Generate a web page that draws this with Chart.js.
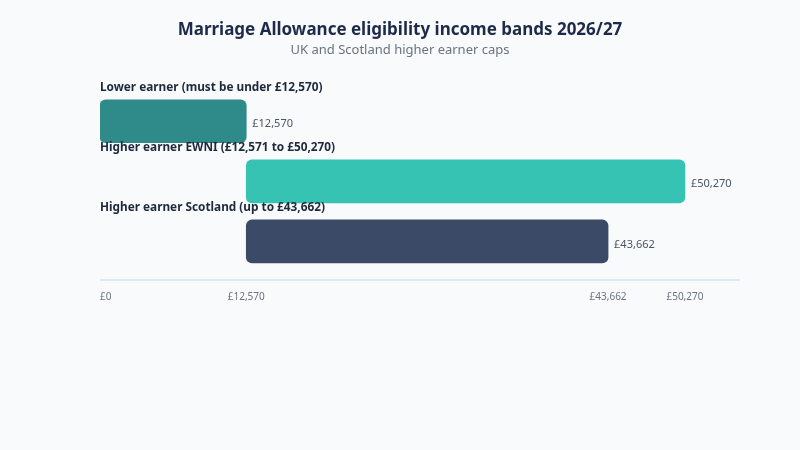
<!DOCTYPE html>
<html>
<head>
<meta charset="utf-8">
<script src="https://cdn.jsdelivr.net/npm/chart.js@4"></script>
<style>
  html, body { margin: 0; padding: 0; background: #f8fafc; }
  #wrap { width: 800px; height: 450px; position: relative; }
</style>
</head>
<body>
<div id="wrap"><canvas id="c"></canvas></div>
<script>
const categories = [
  'Lower earner (must be under £12,570)',
  'Higher earner EWNI (£12,571 to £50,270)',
  'Higher earner Scotland (up to £43,662)'
];
const bandStart = [0, 12570, 12570];
const bandEnd = [12570, 50270, 43662];
const tickValues = [0, 12570, 43662, 50270];
const axisMax = 55000;

const fmt = v => '£' + v.toLocaleString('en-GB');
const FONT = '"Noto Sans", "DejaVu Sans", sans-serif';

const overlay = {
  id: 'overlay',
  afterDatasetsDraw(chart) {
    const ctx = chart.ctx;
    const meta = chart.getDatasetMeta(0);
    const xs = chart.scales.x;
    const area = chart.chartArea;
    ctx.save();
    meta.data.forEach((bar, i) => {
      const half = bar.height / 2;
      ctx.font = '700 11.8px ' + FONT;
      ctx.fillStyle = '#1e293b';
      ctx.textAlign = 'left';
      ctx.textBaseline = 'middle';
      ctx.fillText(categories[i], area.left, bar.y - half - 12.5);
      ctx.font = '400 11px ' + FONT;
      ctx.fillStyle = '#4b5563';
      ctx.fillText(fmt(bandEnd[i]), bar.x + 6, bar.y + 3);
    });
    const baseY = area.bottom + 8.5;
    ctx.strokeStyle = '#e2e8f0';
    ctx.lineWidth = 2;
    ctx.beginPath();
    ctx.moveTo(area.left, baseY);
    ctx.lineTo(area.right, baseY);
    ctx.stroke();
    ctx.font = '400 10px ' + FONT;
    ctx.fillStyle = '#6b7280';
    ctx.textBaseline = 'middle';
    tickValues.forEach((v, i) => {
      const px = xs.getPixelForValue(v);
      ctx.textAlign = i === 0 ? 'left' : 'center';
      ctx.fillText(fmt(v), px, baseY + 17);
    });
    ctx.restore();
  }
};

new Chart(document.getElementById('c'), {
  type: 'bar',
  data: {
    labels: categories,
    datasets: [{
      data: categories.map((c, i) => [bandStart[i], bandEnd[i]]),
      backgroundColor: ['#2f8a8a', '#36c3b3', '#3b4a66'],
      borderRadius: 6,
      borderSkipped: false,
      barThickness: 43
    }]
  },
  options: {
    indexAxis: 'y',
    responsive: true,
    maintainAspectRatio: false,
    animation: false,
    layout: { padding: { left: 60, right: 60, top: 0, bottom: 178.5 } },
    scales: {
      x: { display: false, min: 0, max: axisMax },
      y: {
        display: true, offset: true,
        ticks: { display: false },
        grid: { display: false },
        border: { display: false },
        afterFit(scale) { scale.width = 40; }
      }
    },
    plugins: {
      legend: { display: false },
      tooltip: { enabled: false },
      title: {
        display: true,
        text: 'Marriage Allowance eligibility income bands 2026/27',
        color: '#1e2a4a',
        font: { family: FONT, size: 17, weight: '700' },
        padding: { top: 19.5, bottom: 3 }
      },
      subtitle: {
        display: true,
        text: 'UK and Scotland higher earner caps',
        color: '#6b7280',
        font: { family: FONT, size: 13, weight: '400' },
        padding: { top: 0, bottom: 32.7 }
      }
    }
  },
  plugins: [overlay]
});
</script>
</body>
</html>
